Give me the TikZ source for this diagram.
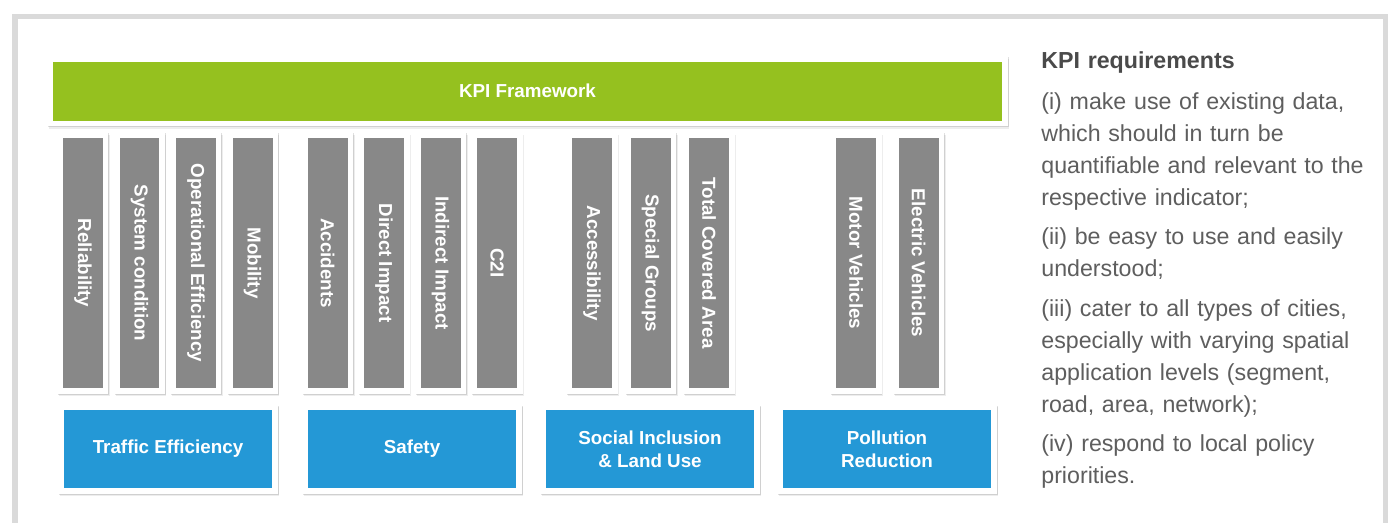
\documentclass[tikz,border=0pt]{standalone}
\usepackage{fontspec}
\setmainfont{Liberation Sans}
\usepackage{graphicx}
\usetikzlibrary{shadows}

\definecolor{kpigreen}{HTML}{95C11F}
\definecolor{kpiblue}{HTML}{2498D6}
\definecolor{kpigray}{HTML}{888888}
\definecolor{framegray}{HTML}{DADADA}
\definecolor{headgray}{HTML}{4A4A4A}
\definecolor{textgray}{HTML}{5E5E5E}

\tikzset{
  kpitile/.style={fill=white, inner sep=0pt, text=white, align=center,
    font=\bfseries\fontsize{10.7}{13}\selectfont,
    general shadow={shadow xshift=0.03cm, shadow yshift=-0.05cm, fill=black, opacity=0.07},
    general shadow={shadow xshift=0.015cm, shadow yshift=-0.025cm, fill=black, opacity=0.12},
    path picture={\fill[#1] ([shift={(0.11cm,0.11cm)}]path picture bounding box.south west)
      rectangle ([shift={(-0.11cm,-0.11cm)}]path picture bounding box.north east);}},
  colbox/.style={kpitile=kpigray, minimum width=1.02cm, minimum height=5.24cm},
  groupbox/.style={kpitile=kpiblue, minimum width=4.4cm, minimum height=1.78cm},
  reqtext/.style={text=textgray, inner sep=0pt, text width=7cm, align=left,
    font=\fontsize{13.2}{18.2}\selectfont}
}
\newcommand{\vlabel}[1]{\rotatebox{-90}{#1}}

\begin{document}
\begin{tikzpicture}[x=0.02cm, y=-0.02cm]
    \fill[white] (0,0) rectangle (1392,522);
    \useasboundingbox (0,0) rectangle (1392,522);
    \clip (0,0) rectangle (1392,522);
    % cadre
    \draw[framegray, line width=0.11cm] (15,16.5) rectangle (1385.5,600);
    % barre du haut
    \node[kpitile=kpigreen, minimum width=19.22cm, minimum height=1.4cm] (kpi) at (527.5,91) {KPI Framework};
    % indicateurs
    \node[colbox] (rel) at (83,263) {\vlabel{Reliability}};
    \node[colbox] (sys) at (139.5,263) {\vlabel{System condition}};
    \node[colbox] (ope) at (196,263) {\vlabel{Operational Efficiency}};
    \node[colbox] (mob) at (252.5,263) {\vlabel{Mobility}};
    \node[colbox] (acc) at (327.5,263) {\vlabel{Accidents}};
    \node[colbox] (dir) at (384,263) {\vlabel{Direct Impact}};
    \node[colbox] (ind) at (440.5,263) {\vlabel{Indirect Impact}};
    \node[colbox] (ctwoi) at (497,263) {\vlabel{C2I}};
    \node[colbox] (accs) at (592,263) {\vlabel{Accessibility}};
    \node[colbox] (spg) at (650.5,263) {\vlabel{Special Groups}};
    \node[colbox] (tca) at (709,263) {\vlabel{Total Covered Area}};
    \node[colbox] (mot) at (856,263) {\vlabel{Motor Vehicles}};
    \node[colbox] (ele) at (918.5,263) {\vlabel{Electric Vehicles}};
    % domaines
    \node[groupbox] (traffic) at (168,449) {Traffic Efficiency};
    \node[groupbox] (safety) at (412,449) {Safety};
    \node[groupbox] (social) at (650,449) {Social Inclusion\\ \& Land Use};
    \node[groupbox] (pollution) at (887,449) {Pollution\\ Reduction};
    % exigences
    \node[reqtext, anchor=base west] (req) at (1041,68) {%
      {\bfseries\color{headgray}KPI requirements}\\[5.4pt]
      (i) make use of existing data,\\
      which should in turn be\\
      quantifiable and relevant to the\\
      respective indicator;\\[4.2pt]
      (ii) be easy to use and easily\\
      understood;\\[4.2pt]
      (iii) cater to all types of cities,\\
      especially with varying spatial\\
      application levels (segment,\\
      road, area, network);\\[4.2pt]
      (iv) respond to local policy\\
      priorities.};
\end{tikzpicture}
\end{document}
